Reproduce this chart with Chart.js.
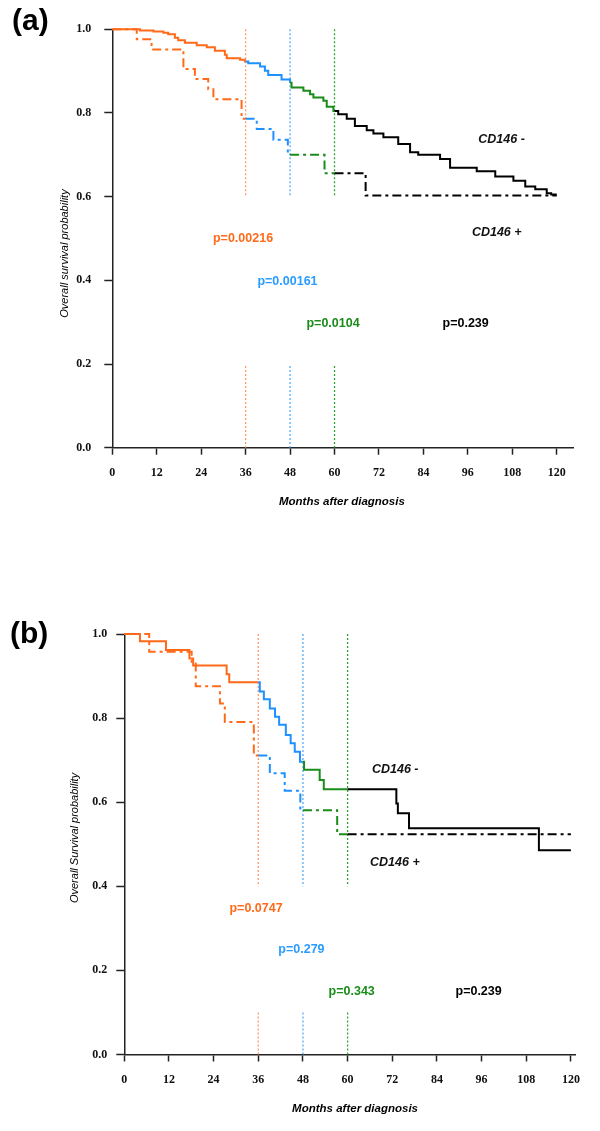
<!DOCTYPE html>
<html>
<head>
<meta charset="utf-8">
<script src="https://cdn.jsdelivr.net/npm/chart.js@4.4.0/dist/chart.umd.min.js"></script>
<style>
  html, body { margin: 0; padding: 0; background: #fff; }
  #wrap { position: relative; width: 600px; height: 1131px; }
  canvas { position: absolute; left: 0; }
</style>
</head>
<body>
<div id="wrap">
  <canvas id="chartA" width="600" height="540" style="top:0"></canvas>
  <canvas id="chartB" width="600" height="571" style="top:560px"></canvas>
</div>
<script>
// ---- data ----
const monthTicks = [0, 12, 24, 36, 48, 60, 72, 84, 96, 108, 120];
const survTicks = [0, 0.2, 0.4, 0.6, 0.8, 1.0];
const cutMonths = [36, 48, 60];
const groupNames = ['CD146 -', 'CD146 +'];

// (a) CD146 - (solid)
const aNegMonths = [0, 7.5, 11.1, 13.8, 15.1, 16.9, 17.8, 19.6, 22.8, 25.5,
  27.7, 30.4, 30.9, 34.5, 35.8, 36, 36.7, 39.9, 41.2, 42.1,
  45.7, 48, 48.4, 51.6, 53.4, 54.3, 57, 57.9, 59.7, 60,
  61, 63.3, 65.5, 68.7, 70.5, 73.2, 77.2, 80.4, 82.6, 88.5,
  91.2, 98.4, 103.4, 108.3, 111.5, 114.2, 117.3, 118.5, 120];
const aNegSurv = [1.0, 0.997, 0.995, 0.992, 0.988, 0.980, 0.974, 0.968, 0.962, 0.957,
  0.949, 0.939, 0.931, 0.927, 0.923, 0.923, 0.919, 0.911, 0.901, 0.891,
  0.880, 0.872, 0.861, 0.853, 0.845, 0.837, 0.829, 0.815, 0.805, 0.805,
  0.797, 0.786, 0.769, 0.759, 0.751, 0.742, 0.726, 0.706, 0.700, 0.690,
  0.669, 0.661, 0.648, 0.638, 0.624, 0.618, 0.608, 0.605, 0.605];
// (a) CD146 + (dash-dot)
const aPosMonths = [0, 6.6, 10.6, 19.2, 22.3, 25.9, 27.3, 34.9, 36, 39, 43.5, 47.4, 48, 57.3, 60, 68.4, 120];
const aPosSurv = [1.0, 0.976, 0.952, 0.905, 0.881, 0.857, 0.833, 0.786, 0.786, 0.762, 0.736, 0.700, 0.700, 0.656, 0.656, 0.603, 0.603];
const aPValues = ['p=0.00216', 'p=0.00161', 'p=0.0104', 'p=0.239'];

// (b) CD146 - (solid)
const bNegMonths = [0, 4.2, 11.2, 17.5, 18.5, 27.5, 28.2, 36, 36.4, 37.5,
  39.1, 40.5, 41.6, 43.4, 44.7, 45.8, 47.2, 48, 48.3, 52.5,
  53.6, 60, 73.1, 73.5, 76.5, 111.4, 120];
const bNegSurv = [1.0, 0.983, 0.962, 0.942, 0.925, 0.904, 0.885, 0.885, 0.863, 0.845,
  0.823, 0.803, 0.784, 0.760, 0.740, 0.720, 0.696, 0.696, 0.677, 0.653,
  0.631, 0.631, 0.597, 0.574, 0.538, 0.486, 0.486];
// (b) CD146 + (dash-dot)
const bPosMonths = [0, 6.7, 18.1, 19.2, 25.7, 27, 34.8, 36, 39.1, 43.1, 47.3, 48, 57.2, 60, 120];
const bPosSurv = [1.0, 0.958, 0.930, 0.876, 0.835, 0.791, 0.711, 0.711, 0.669, 0.627, 0.581, 0.581, 0.524, 0.524, 0.524];
const bPValues = ['p=0.0747', 'p=0.279', 'p=0.343', 'p=0.239'];

// ---- styles ----
const ORANGE = '#ff6a1a';
const BLUE = '#1e90ff';
const GREEN = '#1a8c1a';
const BLACK = '#000000';
const AXIS = '#222222';
const cutColors = ['#ff9a66', '#55aaff', '#33a033'];
const noteColors = [ORANGE, '#2a9cff', GREEN, BLACK];
const SANS = '"Liberation Sans", Arial, sans-serif';
const TICK_FONT = { family: '"Liberation Serif", "Times New Roman", serif', weight: 'bold', size: 12 };

function periodColor(x) {
  if (x < cutMonths[0]) return ORANGE;
  if (x < cutMonths[1]) return BLUE;
  if (x < cutMonths[2]) return GREEN;
  return BLACK;
}

function kmDataset(months, surv, dash) {
  return {
    data: months.map((m, i) => ({ x: m, y: surv[i] })),
    stepped: 'before',
    borderWidth: 2,
    borderColor: BLACK,
    borderDash: dash,
    pointRadius: 0,
    fill: false,
    segment: { borderColor: c => periodColor(c.p0.parsed.x) },
  };
}

function cutDataset(month, color, top, bottom) {
  return {
    data: [
      { x: month, y: top[0] }, { x: month, y: top[1] },
      { x: month, y: null },
      { x: month, y: bottom[0] }, { x: month, y: bottom[1] },
    ],
    borderColor: color,
    borderWidth: 1.3,
    borderDash: [2, 2],
    pointRadius: 0,
    spanGaps: false,
    fill: false,
  };
}

// draws panel letter, axis titles, p-values and group labels
const textLayer = {
  id: 'textLayer',
  afterDraw(chart, args, o) {
    const { ctx } = chart;
    const x = chart.scales.x, y = chart.scales.y;
    ctx.save();
    ctx.fillStyle = BLACK;
    ctx.textBaseline = 'middle';

    ctx.font = 'bold 30px ' + SANS;
    ctx.textAlign = 'left';
    ctx.fillText(o.letter, o.letterX, o.letterY);

    ctx.textAlign = 'center';
    ctx.font = 'italic bold 11.5px ' + SANS;
    ctx.fillText('Months after diagnosis', x.getPixelForValue(o.xTitleAt), y.getPixelForValue(0) + 54);

    ctx.save();
    ctx.translate(x.getPixelForValue(0) - o.yTitleGap, y.getPixelForValue(o.yTitleAt));
    ctx.rotate(-Math.PI / 2);
    ctx.font = 'italic 11px ' + SANS;
    ctx.fillText(o.yTitle, 0, 0);
    ctx.restore();

    ctx.font = 'bold 12.5px ' + SANS;
    o.pValues.forEach((t, i) => {
      ctx.fillStyle = noteColors[i];
      ctx.fillText(t, x.getPixelForValue(o.pAt[i][0]), y.getPixelForValue(o.pAt[i][1]));
    });

    ctx.fillStyle = '#111';
    ctx.font = 'italic bold 12.5px ' + SANS;
    groupNames.forEach((t, i) => {
      ctx.fillText(t, x.getPixelForValue(o.groupAt[i][0]), y.getPixelForValue(o.groupAt[i][1]));
    });
    ctx.restore();
  }
};

function makeChart(id, p) {
  const datasets = [
    kmDataset(p.negMonths, p.negSurv, []),
    kmDataset(p.posMonths, p.posSurv, [9, 4, 3, 4]),
  ];
  cutMonths.forEach((m, i) => datasets.push(cutDataset(m, cutColors[i], p.cutTop, p.cutBottom)));

  return new Chart(document.getElementById(id), {
    type: 'line',
    data: { datasets },
    plugins: [textLayer],
    options: {
      responsive: false,
      animation: false,
      events: [],
      layout: { padding: { top: p.top, right: p.right, left: 0, bottom: 0 } },
      elements: { line: { tension: 0 } },
      datasets: { line: { clip: false } },
      plugins: {
        legend: { display: false },
        tooltip: { enabled: false },
        textLayer: p.text,
      },
      scales: {
        x: {
          type: 'linear',
          min: 0,
          max: p.xMax,
          afterBuildTicks: s => { s.ticks = monthTicks.map(v => ({ value: v })); },
          afterFit: s => { s.height = p.xAxisHeight; },
          grid: { drawOnChartArea: false, drawTicks: true, tickLength: 7, tickWidth: 1.5, tickColor: AXIS },
          border: { display: true, color: AXIS, width: 1.5 },
          ticks: { font: TICK_FONT, color: '#111', padding: 11, maxRotation: 0, autoSkip: false, callback: v => String(v) },
        },
        y: {
          type: 'linear',
          min: 0,
          max: 1,
          afterBuildTicks: s => { s.ticks = survTicks.map(v => ({ value: v })); },
          afterFit: s => { s.width = p.yAxisWidth; },
          grid: { drawOnChartArea: false, drawTicks: true, tickLength: 8, tickWidth: 1.5, tickColor: AXIS },
          border: { display: true, color: AXIS, width: 1.5 },
          ticks: { font: TICK_FONT, color: '#111', padding: p.yPad, autoSkip: false, callback: v => v.toFixed(1) },
        },
      },
    },
  });
}

makeChart('chartA', {
  negMonths: aNegMonths, negSurv: aNegSurv, posMonths: aPosMonths, posSurv: aPosSurv,
  cutTop: [1.0, 0.6], cutBottom: [0.195, 0],
  top: 29.3, right: 26.6, xMax: 124.5, xAxisHeight: 92.3, yAxisWidth: 112.3, yPad: 13,
  text: {
    letter: '(a)', letterX: 12, letterY: 22,
    xTitleAt: 62, yTitleAt: 0.464, yTitleGap: 47, yTitle: 'Overall survival probability',
    pValues: aPValues,
    pAt: [[35.3, 0.5], [47.3, 0.397], [59.6, 0.297], [95.4, 0.297]],
    groupAt: [[105.1, 0.736], [103.8, 0.514]],
  },
});

makeChart('chartB', {
  negMonths: bNegMonths, negSurv: bNegSurv, posMonths: bPosMonths, posSurv: bPosSurv,
  cutTop: [1.0, 0.4], cutBottom: [0.1, 0],
  top: 74, right: 25, xMax: 121.1, xAxisHeight: 76.5, yAxisWidth: 124.3, yPad: 9,
  text: {
    letter: '(b)', letterX: 10, letterY: 75,
    xTitleAt: 62, yTitleAt: 0.515, yTitleGap: 49, yTitle: 'Overall Survival probability',
    pValues: bPValues,
    pAt: [[35.4, 0.348], [47.6, 0.249], [61.1, 0.149], [95.2, 0.149]],
    groupAt: [[72.8, 0.677], [72.7, 0.456]],
  },
});
</script>
</body>
</html>
